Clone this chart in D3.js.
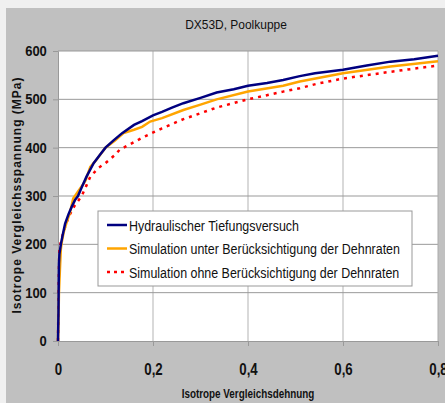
<!DOCTYPE html>
<html>
<head>
<meta charset="utf-8">
<script src="https://cdn.jsdelivr.net/npm/d3@7"></script>
<style>
  body { margin: 0; background: #f0f0f0; }
  svg text { font-family: "Liberation Sans", Arial, sans-serif; fill: #111; }
</style>
</head>
<body>
<svg id="chart" width="445" height="403"></svg>
<script>
// Chart size
var w = 445;
var h = 403;

// Titles
var title = "DX53D, Poolkuppe";
var xTitle = "Isotrope Vergleichsdehnung";
var yTitle = "Isotrope Vergleichsspannung (MPa)";

// Ticks
var xTicks = [0, 0.2, 0.4, 0.6, 0.8];
var yTicks = [0, 100, 200, 300, 400, 500, 600];

// Series names
var seriesNames = [
    "Hydraulischer Tiefungsversuch",
    "Simulation unter Berücksichtigung der Dehnraten",
    "Simulation ohne Berücksichtigung der Dehnraten"
];

// Data: [strain, stress]
var hydraulic = [
    [0, 0], [0.001, 60], [0.0015, 120], [0.002, 160], [0.003, 180], [0.006, 200],
    [0.01, 220], [0.015, 243], [0.022, 262], [0.029, 278], [0.036, 292], [0.042, 300],
    [0.05, 318], [0.06, 340], [0.075, 368], [0.088, 385], [0.1, 400], [0.117, 415],
    [0.135, 430], [0.16, 447], [0.177, 455], [0.2, 467], [0.219, 474], [0.24, 483],
    [0.264, 492], [0.3, 503], [0.334, 514], [0.37, 521], [0.4, 528], [0.44, 534],
    [0.474, 540], [0.509, 548], [0.541, 554], [0.6, 561], [0.65, 570], [0.7, 578],
    [0.75, 583], [0.8, 590]
];
var simWith = [
    [0, 0], [0.001, 40], [0.002, 100], [0.004, 147], [0.006, 190], [0.008, 205],
    [0.012, 225], [0.018, 245], [0.025, 265], [0.032, 295], [0.04, 306], [0.05, 320],
    [0.058, 332], [0.068, 360], [0.081, 375], [0.1, 400], [0.12, 415], [0.138, 430],
    [0.16, 437], [0.177, 443], [0.194, 454], [0.219, 461], [0.264, 478], [0.3, 489],
    [0.334, 500], [0.4, 516], [0.474, 528], [0.509, 537], [0.6, 554], [0.7, 568],
    [0.8, 579]
];
var simWithout = [
    [0, 0], [0.001, 80], [0.002, 150], [0.003, 190], [0.006, 205], [0.01, 220],
    [0.016, 240], [0.024, 260], [0.035, 280], [0.05, 300], [0.06, 322], [0.068, 340],
    [0.085, 358], [0.1, 368], [0.12, 385], [0.13, 396], [0.142, 402], [0.18, 422],
    [0.219, 440], [0.264, 459], [0.334, 483], [0.4, 500], [0.474, 516], [0.509, 523],
    [0.544, 532], [0.6, 543], [0.7, 557], [0.8, 570]
];

var svg = d3.select("#chart");

// gray panel
svg.append("rect")
    .attr("x", 6).attr("y", 8)
    .attr("width", w - 6).attr("height", h - 8)
    .attr("fill", "#c0c0c0");

// plot area
var plotLeft = 58, plotRight = 438, plotTop = 51, plotBottom = 341;

var xScale = d3.scaleLinear().domain([0, 0.8]).range([plotLeft, plotRight]);
var yScale = d3.scaleLinear().domain([0, 600]).range([plotBottom, plotTop]);

svg.append("rect")
    .attr("x", plotLeft).attr("y", plotTop)
    .attr("width", plotRight - plotLeft).attr("height", plotBottom - plotTop)
    .attr("fill", "#ffffff");

// vertical grid lines
svg.selectAll(".vgrid")
    .data(xTicks.slice(1, -1))
    .enter()
    .append("line")
    .attr("x1", function (d) { return xScale(d); })
    .attr("x2", function (d) { return xScale(d); })
    .attr("y1", plotTop).attr("y2", plotBottom)
    .attr("stroke", "#cccccc")
    .attr("stroke-width", 1.5);

// horizontal grid lines
svg.selectAll(".hgrid")
    .data(yTicks.slice(1))
    .enter()
    .append("line")
    .attr("x1", plotLeft).attr("x2", plotRight)
    .attr("y1", function (d) { return yScale(d); })
    .attr("y2", function (d) { return yScale(d); })
    .attr("stroke", "#999999")
    .attr("stroke-width", 1);

// right border
svg.append("line")
    .attr("x1", plotRight).attr("x2", plotRight)
    .attr("y1", plotTop).attr("y2", plotBottom)
    .attr("stroke", "#aaaaaa");

// axes
var yAxis = d3.axisLeft(yScale)
    .tickValues(yTicks)
    .tickSize(5)
    .tickPadding(7);

var gy = svg.append("g")
    .attr("transform", "translate(" + plotLeft + ",0)")
    .call(yAxis);
gy.select(".domain").attr("stroke", "#999");
gy.selectAll(".tick line").attr("stroke", "#999");
gy.selectAll(".tick text")
    .attr("font-size", 14)
    .attr("font-weight", "bold")
    .attr("font-family", null)
    .attr("fill", "#111")
    .attr("transform", "scale(0.93,1)");

var xAxis = d3.axisBottom(xScale)
    .tickValues(xTicks)
    .tickSize(5)
    .tickPadding(17)
    .tickFormat(function (d) { return d === 0 ? "0" : d3.format(".1f")(d).replace(".", ","); });

var gx = svg.append("g")
    .attr("transform", "translate(0," + plotBottom + ")")
    .call(xAxis);
gx.select(".domain").attr("stroke", "#999");
gx.selectAll(".tick line").attr("stroke", "#999");
gx.selectAll(".tick text")
    .attr("font-size", 17)
    .attr("font-weight", "bold")
    .attr("font-family", null)
    .attr("fill", "#111")
    .attr("transform", "scale(0.78,1)");

// curves
var line = d3.line()
    .x(function (d) { return xScale(d[0]); })
    .y(function (d) { return yScale(d[1]); });

var plot = svg.append("g");

plot.append("path")
    .datum(simWithout)
    .attr("d", line)
    .attr("fill", "none")
    .attr("stroke", "#ff0000")
    .attr("stroke-width", 2.5)
    .attr("stroke-dasharray", "3,5");

plot.append("path")
    .datum(simWith)
    .attr("d", line)
    .attr("fill", "none")
    .attr("stroke", "#ffa500")
    .attr("stroke-width", 2.5);

plot.append("path")
    .datum(hydraulic)
    .attr("d", line)
    .attr("fill", "none")
    .attr("stroke", "#000080")
    .attr("stroke-width", 2.5);

// titles
svg.append("text")
    .attr("transform", "translate(236,29) scale(0.92,1)")
    .attr("text-anchor", "middle")
    .attr("font-size", 13)
    .text(title);

svg.append("text")
    .attr("transform", "translate(248,398) scale(0.79,1)")
    .attr("text-anchor", "middle")
    .attr("font-size", 12.5)
    .attr("font-weight", "bold")
    .text(xTitle);

svg.append("text")
    .attr("transform", "translate(21,195) rotate(-90)")
    .attr("text-anchor", "middle")
    .attr("font-size", 12)
    .attr("font-weight", "bold")
    .attr("letter-spacing", 1)
    .text(yTitle);

// legend
var legend = svg.append("g");
legend.append("rect")
    .attr("x", 98).attr("y", 211)
    .attr("width", 314).attr("height", 75)
    .attr("fill", "#ffffff")
    .attr("stroke", "#999999");

var legendStyles = [
    { color: "#000080", dash: null },
    { color: "#ffa500", dash: null },
    { color: "#ff0000", dash: "3,4" }
];

var rows = legend.selectAll(".row")
    .data(seriesNames)
    .enter()
    .append("g")
    .attr("transform", function (d, i) { return "translate(0," + (225 + i * 23.5) + ")"; });

rows.append("line")
    .attr("x1", 107).attr("x2", 127)
    .attr("y1", 0).attr("y2", 0)
    .attr("stroke", function (d, i) { return legendStyles[i].color; })
    .attr("stroke-width", 2.5)
    .attr("stroke-dasharray", function (d, i) { return legendStyles[i].dash; });

rows.append("text")
    .attr("transform", "translate(129,5.5) scale(0.83,1)")
    .attr("font-size", 15)
    .text(function (d) { return d; });
</script>
</body>
</html>
